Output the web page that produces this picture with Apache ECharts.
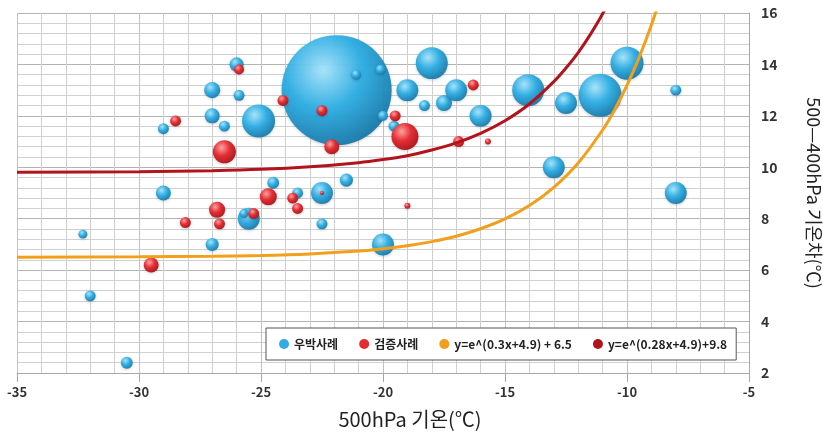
<!DOCTYPE html>
<html>
<head>
<meta charset="utf-8">
<script src="https://cdn.jsdelivr.net/npm/echarts@6/dist/echarts.min.js"></script>
<style>
  html, body { margin: 0; padding: 0; background: #fff; }
  #chart { width: 823px; height: 437px; }
</style>
</head>
<body>
<div id="chart"></div>
<script>
// ---- data ----
// 우박사례 (hail cases): x = 500hPa temperature, y = 500-400hPa temp difference, w = bubble magnitude
const hailX = [-21.9, -32.3, -32.0, -30.5, -29.0, -29.0, -27.0, -26.0, -27.0, -26.5, -25.9, -25.1,
  -21.1, -20.1, -20.0, -19.55, -19.0, -18.0, -18.3, -17.5, -17.0, -16.0, -14.05, -12.5, -11.1,
  -10.0, -8.0, -13.0, -8.0, -20.0, -22.5, -21.5, -22.5, -23.5, -24.5, -25.5, -25.7, -27.0];
const hailY = [13.0, 7.4, 5.0, 2.4, 9.0, 11.5, 13.0, 14.0, 12.0, 11.6, 12.8, 11.8,
  13.6, 13.8, 12.0, 11.6, 13.0, 14.05, 12.4, 12.5, 13.0, 12.0, 13.0, 12.5, 12.8,
  14.05, 13.0, 10.0, 9.0, 7.0, 9.0, 9.5, 7.8, 9.0, 9.4, 8.0, 8.2, 7.0];
const hailW = [121, 0.8, 1.2, 1.4, 2.25, 1.2, 2.6, 2.0, 2.25, 1.2, 1.2, 10.9,
  1.0, 1.0, 1.0, 1.2, 4.8, 10.2, 1.2, 2.6, 4.8, 4.8, 10.2, 4.8, 18.5,
  10.9, 1.2, 4.8, 4.8, 4.8, 4.8, 1.7, 1.2, 1.2, 1.4, 4.8, 0.8, 1.7];

// 검증사례 (verification cases)
const verX = [-28.5, -25.9, -26.5, -24.1, -22.5, -22.1, -19.1, -19.5, -16.3, -16.9, -15.7,
  -19.0, -22.5, -23.7, -23.5, -24.7, -25.3, -26.8, -26.7, -28.1, -29.5];
const verY = [11.8, 13.8, 10.6, 12.6, 12.2, 10.8, 11.2, 12.0, 13.2, 11.0, 11.0,
  8.5, 9.0, 8.8, 8.4, 8.85, 8.2, 8.35, 7.8, 7.85, 6.2];
const verW = [1.2, 1.0, 5.3, 1.2, 1.2, 2.25, 7.3, 1.2, 1.2, 1.2, 0.36,
  0.36, 0.16, 1.2, 1.2, 2.9, 1.2, 2.6, 1.2, 1.2, 2.25];

// fitted curves
const orangeX = [-35, -30, -27, -25, -23, -21, -20, -19, -18, -17, -16, -15, -14, -13, -12, -11, -10.5, -10, -9.5, -9, -8.5];
const orangeY = [6.50, 6.52, 6.54, 6.57, 6.63, 6.74, 6.83, 6.95, 7.11, 7.32, 7.61, 7.99, 8.51, 9.22, 10.17, 11.45, 12.25, 13.19, 14.28, 15.53, 16.99];
const redX = [-35, -30, -27, -25, -23, -21, -20, -19, -18, -17, -16, -15, -14, -13, -12.5, -12, -11.5, -11, -10.5];
const redY = [9.81, 9.83, 9.87, 9.92, 10.02, 10.18, 10.30, 10.45, 10.67, 10.95, 11.32, 11.81, 12.46, 13.33, 13.86, 14.46, 15.17, 15.97, 16.91];

const xTicks = { min: -35, max: -5, interval: 5 };
const yTicks = { min: 2, max: 16, interval: 2 };

const names = ['우박사례', '검증사례', 'y=e^(0.3x+4.9) + 6.5', 'y=e^(0.28x+4.9)+9.8'];

// ---- build ----
const zip3 = (a, b, c) => a.map((v, i) => [v, b[i], c[i]]);
const zip2 = (a, b) => a.map((v, i) => [v, b[i]]);

const FONT = '"Noto Sans CJK KR", "Noto Sans", sans-serif';

function sphere(light, mid, dark) {
  return {
    type: 'radial', x: 0.38, y: 0.32, r: 0.78,
    colorStops: [
      { offset: 0, color: light },
      { offset: 0.45, color: mid },
      { offset: 1, color: dark }
    ]
  };
}

const chart = echarts.init(document.getElementById('chart'), null, { renderer: 'canvas' });

chart.setOption({
  animation: false,
  backgroundColor: '#ffffff',
  grid: { left: 17, right: 74, top: 13, bottom: 64, containLabel: false, outerBoundsMode: 'none' },
  xAxis: {
    type: 'value',
    min: xTicks.min, max: xTicks.max, interval: xTicks.interval,
    name: '500hPa 기온(℃)',
    nameLocation: 'middle',
    nameGap: 36,
    nameTextStyle: { fontFamily: FONT, fontSize: 20, color: '#222', padding: [0, 0, 0, 54] },
    axisLine: { show: true, lineStyle: { color: '#a8a8a8', width: 1 } },
    axisTick: { show: true, length: 9, lineStyle: { color: '#a8a8a8' } },
    minorTick: { show: false, splitNumber: 5 },
    axisLabel: { fontFamily: FONT, fontSize: 13, fontWeight: 'bold', color: '#333', margin: 13 },
    splitLine: { show: true, lineStyle: { color: '#c2c2c2', width: 1 } },
    minorSplitLine: { show: true, lineStyle: { color: '#cfcfcf', width: 1 } }
  },
  yAxis: {
    type: 'value',
    position: 'right',
    min: yTicks.min, max: yTicks.max, interval: yTicks.interval,
    name: '500—400hPa 기온차(℃)',
    nameLocation: 'middle',
    nameRotate: -90,
    nameGap: 56,
    nameTextStyle: { fontFamily: FONT, fontSize: 18, color: '#222' },
    axisLine: { show: true, lineStyle: { color: '#a8a8a8', width: 1 } },
    axisTick: { show: false },
    minorTick: { show: false, splitNumber: 5 },
    axisLabel: { fontFamily: FONT, fontSize: 14, fontWeight: 'bold', color: '#333', margin: 12 },
    splitLine: { show: true, lineStyle: { color: '#b4b4b4', width: 1 } },
    minorSplitLine: { show: true, lineStyle: { color: '#d0d0d0', width: 1 } }
  },
  legend: {
    left: 266, top: 328,
    orient: 'horizontal',
    icon: 'circle',
    itemWidth: 10, itemHeight: 10, itemGap: 21,
    padding: [10, 9, 10, 13],
    borderColor: '#555', borderWidth: 1, borderRadius: 0,
    backgroundColor: '#ffffff',
    textStyle: { fontFamily: FONT, fontSize: 12, fontWeight: 'bold', color: '#222' },
    data: [
      { name: names[0], itemStyle: { color: '#29a8df' } },
      { name: names[1], itemStyle: { color: '#e3262b' } },
      { name: names[2], itemStyle: { color: '#f2a01c' } },
      { name: names[3], itemStyle: { color: '#b3141c' } }
    ]
  },
  series: [
    {
      name: names[0], type: 'scatter', z: 2,
      data: zip3(hailX, hailY, hailW),
      symbolSize: v => 10 * Math.sqrt(v[2]),
      itemStyle: {
        color: sphere('#a6e4fb', '#2eaee4', '#16709e'),
        opacity: 0.96,
        shadowBlur: 3, shadowColor: 'rgba(0,0,0,0.2)', shadowOffsetY: 1
      },
      emphasis: { disabled: true }
    },
    {
      name: names[1], type: 'scatter', z: 3,
      data: zip3(verX, verY, verW),
      symbolSize: v => 10 * Math.sqrt(v[2]),
      itemStyle: {
        color: sphere('#ffa0a0', '#e42a2f', '#9e1218'),
        opacity: 0.97,
        shadowBlur: 3, shadowColor: 'rgba(0,0,0,0.2)', shadowOffsetY: 1
      },
      emphasis: { disabled: true }
    },
    {
      name: names[2], type: 'line', z: 4,
      data: zip2(orangeX, orangeY),
      smooth: 0.3, showSymbol: false, clip: true,
      lineStyle: { color: '#f2a01c', width: 3 },
      itemStyle: { color: '#f2a01c' }
    },
    {
      name: names[3], type: 'line', z: 4,
      data: zip2(redX, redY),
      smooth: 0.3, showSymbol: false, clip: true,
      lineStyle: { color: '#b3141c', width: 3 },
      itemStyle: { color: '#b3141c' }
    }
  ]
});
</script>
</body>
</html>
